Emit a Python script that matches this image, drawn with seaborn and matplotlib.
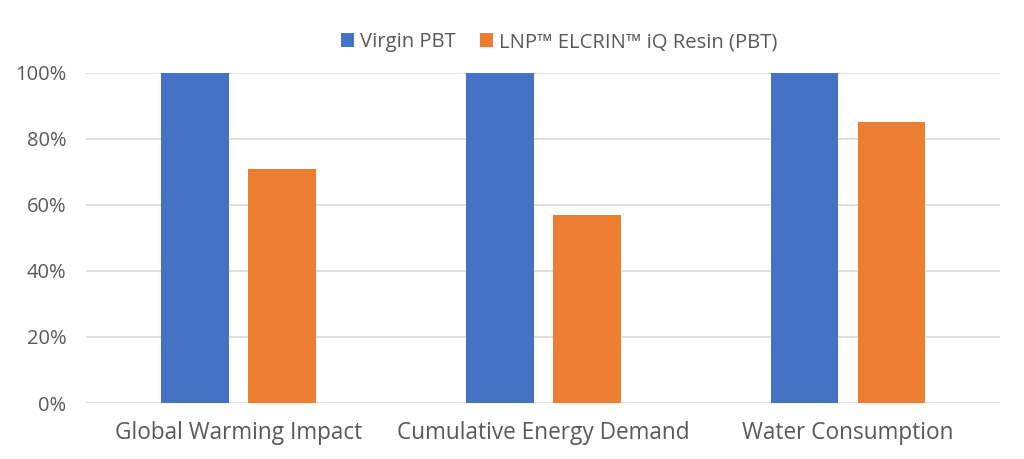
import matplotlib
matplotlib.use("Agg")
import matplotlib.pyplot as plt
import seaborn as sns
import pandas as pd
from matplotlib.ticker import PercentFormatter
from matplotlib.patches import Patch

categories = ["Global Warming Impact", "Cumulative Energy Demand", "Water Consumption"]
series_names = ["Virgin PBT", "LNP\u2122 ELCRIN\u2122 iQ Resin (PBT)"]
virgin = [100, 100, 100]
elcrin = [71, 57, 85]
colors = ["#4472C4", "#ED7D31"]
yticks = [0, 20, 40, 60, 80, 100]

df = pd.DataFrame({
    "category": categories * 2,
    "series": [series_names[0]] * 3 + [series_names[1]] * 3,
    "value": virgin + elcrin,
})

sns.set_theme(style="white")
plt.rcParams["font.family"] = ["Open Sans", "DejaVu Sans"]

fig = plt.figure(figsize=(10.24, 4.59), dpi=100)
ax = fig.add_axes([0.084, 0.122, 0.893, 0.719])

sns.barplot(data=df, x="category", y="value", hue="series", palette=colors,
            width=0.571, gap=0.22, ax=ax, legend=False, saturation=1, errorbar=None,
            linewidth=0)

ax.set_ylim(0, 100)
ax.set_xlim(-0.5, 2.5)
ax.set_yticks(yticks)
ax.yaxis.set_major_formatter(PercentFormatter(decimals=0))
ax.grid(axis="y", color="#d9d9d9", linewidth=1.2)
ax.set_axisbelow(True)
for s in ax.spines.values():
    s.set_visible(False)
ax.set_xlabel("")
ax.set_ylabel("")
ax.tick_params(axis="y", labelsize=14.5, colors="#595959", length=0, pad=14)
ax.tick_params(axis="x", labelsize=16.3, colors="#595959", length=0, pad=13)

handles = [Patch(facecolor=c, edgecolor="none") for c in colors]
fig.legend(handles, series_names, loc="center", bbox_to_anchor=(0.546, 0.908), ncol=2,
           frameon=False, fontsize=14.6, handlelength=0.65, handleheight=0.65,
           handletextpad=0.3, columnspacing=1.2, labelcolor="#595959")

fig.savefig("out.png", dpi=100, facecolor="white")
